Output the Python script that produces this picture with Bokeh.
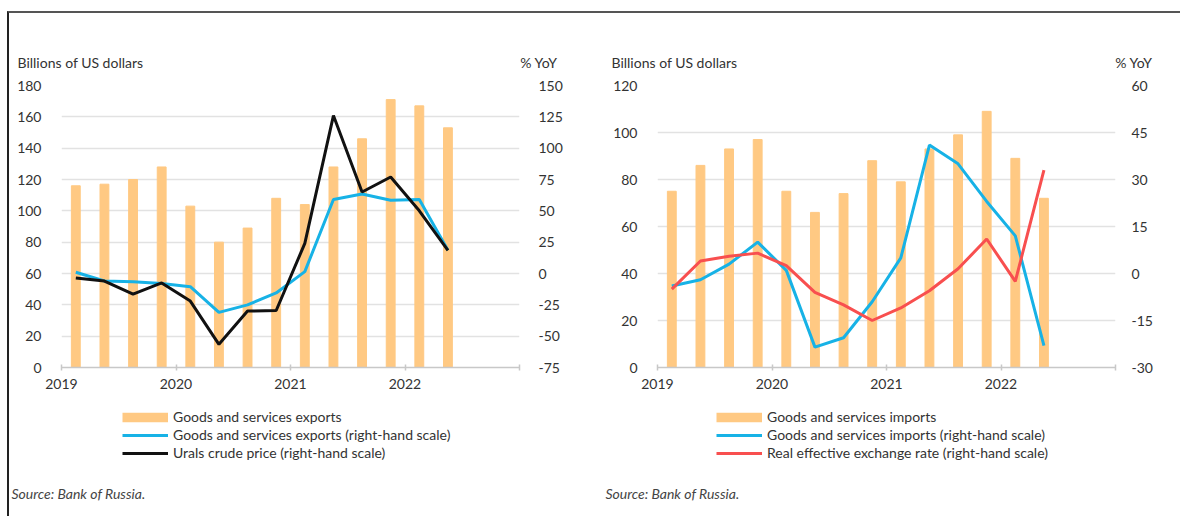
from bokeh.plotting import figure
from bokeh.models import Range1d, LinearAxis, FixedTicker, Label, Legend, LegendItem
from bokeh.layouts import row, column
from bokeh.embed import file_html
from bokeh.resources import INLINE

# ---------------- data ----------------
quarters = ["2019Q1", "2019Q2", "2019Q3", "2019Q4", "2020Q1", "2020Q2", "2020Q3",
            "2020Q4", "2021Q1", "2021Q2", "2021Q3", "2021Q4", "2022Q1", "2022Q2"]
year_ticks = [0, 4, 8, 12, 16]
year_labels = ["2019", "2020", "2021", "2022", ""]

exports_bn = [116, 117, 120, 128, 103, 80, 89, 108, 104, 128, 146, 171, 167, 153]
exports_yoy = [1, -6, -6.5, -8, -10.5, -31, -25, -15.5, 1.5, 59, 63.5, 58.5, 59, 18.5]
urals_yoy = [-3.5, -6, -16.5, -7.5, -22, -56.5, -30, -29.5, 24, 126, 65, 77, 50, 18.5]

imports_bn = [75, 86, 93, 97, 75, 66, 74, 88, 79, 93, 99, 109, 89, 72]
imports_yoy = [-4, -2, 3, 10, 1, -23.5, -20.5, -9, 5, 41, 35, 23, 12, -23]
reer_yoy = [-5, 4, 5.5, 6.5, 2.5, -6, -10, -15, -11, -5.5, 1.5, 11, -2.5, 33]

left_ticks_1 = list(range(0, 181, 20))
right_ticks_1 = list(range(-75, 151, 25))
left_ticks_2 = list(range(0, 121, 20))
right_ticks_2 = list(range(-30, 61, 15))

legend_1 = ["Goods and services exports",
            "Goods and services exports (right-hand scale)",
            "Urals crude price (right-hand scale)"]
legend_2 = ["Goods and services imports",
            "Goods and services imports (right-hand scale)",
            "Real effective exchange rate (right-hand scale)"]

left_title = "Billions of US dollars"
right_title = "% YoY"
source_text = "Source: Bank of Russia."

# ---------------- style ----------------
FONT = "Lato"
FS = "14px"
TXT = "#333333"
ORANGE = "#FFC983"
CYAN = "#17B2E6"
BLACK = "#111111"
RED = "#F84F4F"
GRID = "#e2e2e2"
NAN = float("nan")

x_pos = [i + 0.5 for i in range(len(quarters))]

W1, W2 = 588, 583
W = W1 + W2


def strip(width, height):
    s = figure(width=width, height=height, x_range=Range1d(0, 1), y_range=Range1d(0, 1),
               x_axis_location=None, y_axis_location=None, output_backend="svg",
               toolbar_location=None, min_border=0)
    s.outline_line_color = None
    s.xgrid.visible = False
    s.ygrid.visible = False
    return s


def text_label(s, x, y, text, align="left", italic=False, color=TXT):
    s.add_layout(Label(x=x, y=y, x_units="screen", y_units="screen", text=text,
                       text_baseline="middle", text_align=align,
                       text_font=FONT, text_font_size=FS, text_color=color,
                       text_font_style="italic" if italic else "normal"))


def add_legend(s, labels, colors, x):
    sw0 = s.line([NAN], [NAN], color=ORANGE, line_width=9.5)
    sw1 = s.line([NAN], [NAN], color=colors[0], line_width=3)
    sw2 = s.line([NAN], [NAN], color=colors[1], line_width=3)
    legend = Legend(items=[LegendItem(label=labels[0], renderers=[sw0]),
                           LegendItem(label=labels[1], renderers=[sw1]),
                           LegendItem(label=labels[2], renderers=[sw2])],
                    location=(x, 55), orientation="vertical",
                    glyph_width=46, glyph_height=16, label_height=16, spacing=1,
                    padding=0, margin=0, border_line_color=None, background_fill_alpha=0,
                    label_text_font=FONT, label_text_font_size=FS,
                    label_text_color=TXT, label_standoff=5)
    s.add_layout(legend)


def make_main(width, mb_left, bars, l1, l2, colors, y_max, lt, r_rng, rt, r_standoff):
    p = figure(width=width, height=330, x_range=Range1d(0, 16), y_range=Range1d(0, y_max),
               output_backend="svg", toolbar_location=None,
               min_border_left=mb_left, min_border_right=width - mb_left - 458,
               min_border_top=15, min_border_bottom=33)
    p.outline_line_color = None
    p.extra_y_ranges = {"pct": Range1d(*r_rng)}

    p.vbar(x=x_pos, top=bars, width=0.31, color=ORANGE)
    p.line(x_pos, l1, y_range_name="pct", color=colors[0], line_width=3)
    p.line(x_pos, l2, y_range_name="pct", color=colors[1], line_width=3)

    yax = p.yaxis[0]
    yax.ticker = FixedTicker(ticks=lt)
    yax.axis_line_color = None
    yax.major_tick_line_color = None
    yax.minor_tick_line_color = None
    yax.major_label_standoff = 14
    yax.major_label_text_font = FONT
    yax.major_label_text_font_size = FS
    yax.major_label_text_color = TXT

    rax = LinearAxis(y_range_name="pct", ticker=FixedTicker(ticks=rt))
    rax.major_label_overrides = {t: str(t) for t in rt}
    rax.axis_line_color = None
    rax.major_tick_line_color = None
    rax.minor_tick_line_color = None
    rax.major_label_standoff = r_standoff
    rax.major_label_text_font = FONT
    rax.major_label_text_font_size = FS
    rax.major_label_text_color = TXT
    p.add_layout(rax, "right")

    xax = p.xaxis[0]
    xax.ticker = FixedTicker(ticks=year_ticks)
    xax.major_label_overrides = {t: s for t, s in zip(year_ticks, year_labels)}
    xax.axis_line_color = "#c8c8c8"
    xax.axis_line_width = 1.5
    xax.major_tick_line_color = "#c8c8c8"
    xax.major_tick_line_width = 1.5
    xax.major_tick_in = 3
    xax.major_tick_out = 3
    xax.minor_tick_line_color = None
    xax.major_label_standoff = 8
    xax.major_label_text_font = FONT
    xax.major_label_text_font_size = FS
    xax.major_label_text_color = TXT

    p.xgrid.visible = False
    p.ygrid.ticker = FixedTicker(ticks=lt)
    p.ygrid.grid_line_color = GRID
    p.ygrid.grid_line_width = 1.5
    return p


top = strip(W, 57)
text_label(top, 8, 8, left_title)
text_label(top, 548, 8, right_title, align="right")
text_label(top, 602, 8, left_title)
text_label(top, 1143, 8, right_title, align="right")

main1 = make_main(W1, 52, exports_bn, exports_yoy, urals_yoy, [CYAN, BLACK],
                  180, left_ticks_1, (-75, 150), right_ticks_1, 13)
main2 = make_main(W2, 60, imports_bn, imports_yoy, reer_yoy, [CYAN, RED],
                  120, left_ticks_2, (-30, 60), right_ticks_2, 10)

bottom = strip(W, 116)
add_legend(bottom, legend_1, [CYAN, BLACK], 113)
add_legend(bottom, legend_2, [CYAN, RED], 707)
text_label(bottom, 2, 23, source_text, italic=True, color="#444444")
text_label(bottom, 596, 23, source_text, italic=True, color="#444444")

layout = column(top, row(main1, main2), bottom, margin=(11, 0, 0, 7),
                styles={"border-top": "2px solid #555555", "border-left": "2px solid #222222"})

open("out.html", "w").write(file_html(layout, INLINE))
